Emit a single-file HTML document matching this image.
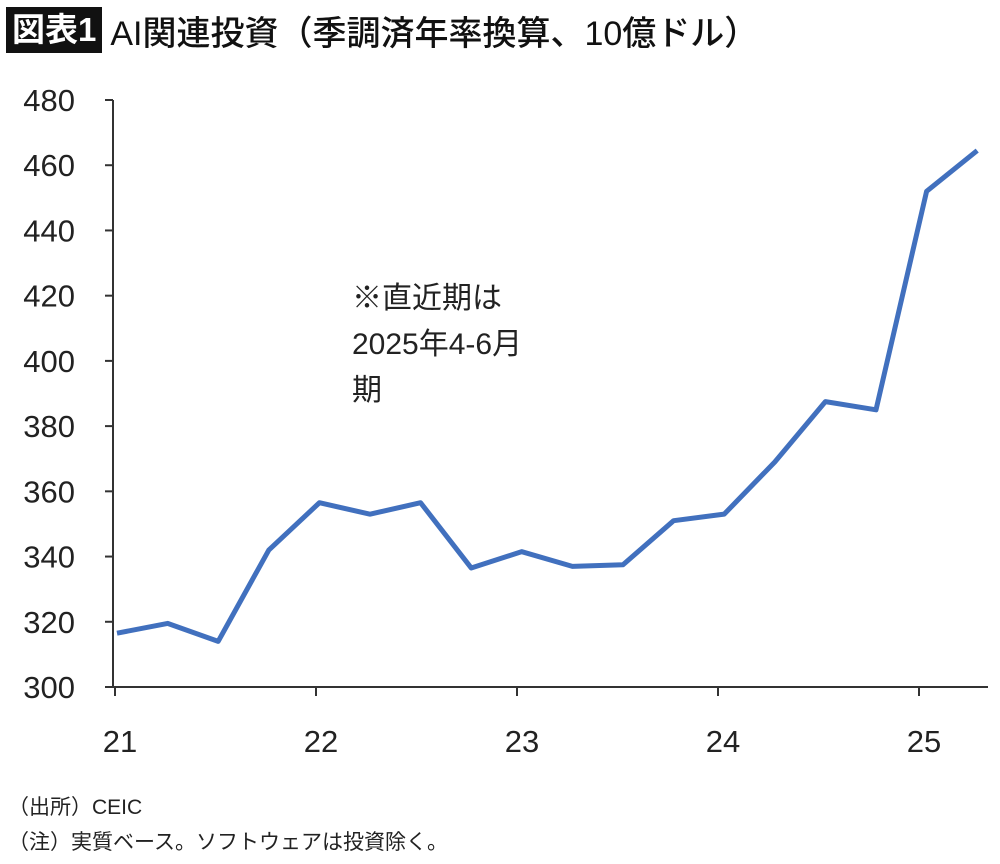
<!DOCTYPE html>
<html><head><meta charset="utf-8">
<style>
body{margin:0;background:#fff;width:1000px;height:864px;overflow:hidden;font-family:"Liberation Sans","Noto Sans CJK JP",sans-serif;}
#title{position:absolute;left:6px;top:6px;height:48px;display:flex;align-items:center;}
#badge{background:#111;color:#fff;font-weight:bold;font-size:33px;padding:0 6px;height:46px;line-height:46px;}
#ttext{font-size:34px;color:#111;margin-left:8px;font-weight:500;}
.note{position:absolute;left:8px;font-size:21px;color:#222;}
</style></head><body>
<div id="title"><span id="badge">図表1</span><span id="ttext">AI関連投資（季調済年率換算、10億ドル）</span></div>
<svg id="chart" width="1000" height="864" style="position:absolute;left:0;top:0"></svg>
<div class="note" style="top:791px">（出所）CEIC</div>
<div class="note" style="top:826px">（注）実質ベース。ソフトウェアは投資除く。</div>
<script>
const values=[316.5,319.5,314,342,356.5,353,356.5,336.5,341.5,337,337.5,351,353,369,387.5,385,452,464.5];
const yTicks=[300,320,340,360,380,400,420,440,460,480];
const xLabels=["21","22","23","24","25"];
const NS="http://www.w3.org/2000/svg";
const svg=document.getElementById('chart');
const y=v=>687-(v-300)*(587/180);
const x=i=>117+50.6*i;
const tx=k=>115+201*k;
function mk(t,a){const e=document.createElementNS(NS,t);for(const k in a)e.setAttribute(k,a[k]);svg.appendChild(e);return e;}
let ax=mk('line',{x1:113,y1:100,x2:113,y2:688,stroke:'#333','stroke-width':2});


let bx=mk('line',{x1:112,y1:687,x2:988,y2:687,stroke:'#333','stroke-width':2});


yTicks.forEach(v=>{
 mk('line',{x1:105,y1:y(v),x2:113,y2:y(v),stroke:'#333','stroke-width':2});
 const t=mk('text',{x:75,y:y(v)+11,'text-anchor':'end','font-size':31,fill:'#222'});
 t.textContent=v;
 
 
});
xLabels.forEach((l,k)=>{
 const px=tx(k);
 mk('line',{x1:px,y1:687,x2:px,y2:696,stroke:'#333','stroke-width':2});
 const t=mk('text',{x:px+5,y:752,'text-anchor':'middle','font-size':31,fill:'#222'});
 t.textContent=l;
 
 
});
const p=mk('polyline',{points:values.map((v,i)=>x(i)+','+y(v)).join(' '),fill:'none',stroke:'#4170be','stroke-width':5,'stroke-linejoin':'round'});


["※直近期は","2025年4-6月","期"].forEach((s,i)=>{
 const t=mk('text',{x:352,y:308+i*46,'font-size':30,fill:'#222'});
 t.textContent=s;
 
 
});
</script>
</body></html>
